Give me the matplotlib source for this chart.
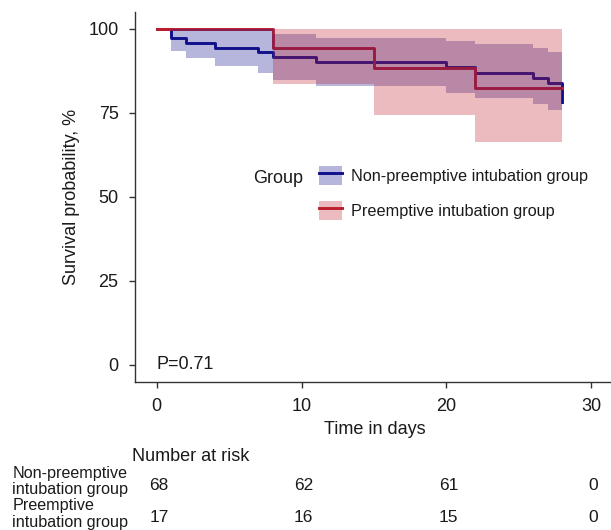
# -*- coding: utf-8 -*-
"""
Kaplan-Meier curves with number at risk table
"""

import numpy as np
import matplotlib.pyplot as plt
from matplotlib.patches import Patch
from matplotlib.lines import Line2D
from matplotlib.transforms import blended_transform_factory

plt.rcParams['font.family'] = ['Liberation Sans', 'DejaVu Sans']

# Non-preemptive intubation group
non_time = [0, 1, 2, 4, 7, 8, 11, 20, 22, 26, 27, 28]
non_surv = [100, 97.2, 95.8, 94.3, 92.9, 91.5, 89.9, 88.6, 86.9, 85.4, 83.9, 78.2]
non_low = [100, 93.3, 91.1, 88.9, 86.8, 84.6, 82.9, 80.9, 79.2, 77.5, 75.7, 75.7]
non_up = [100, 100, 100, 100, 100, 98.3, 97.3, 96.3, 95.3, 94.2, 93.0, 93.0]

# Preemptive intubation group
pre_time = [0, 8, 15, 22, 28]
pre_surv = [100, 94.3, 88.4, 82.4, 82.4]
pre_low = [100, 83.6, 74.2, 66.3, 66.3]
pre_up = [100, 100, 100, 100, 100]

group_names = ['Non-preemptive intubation group', 'Preemptive intubation group']
risk_labels = ['Non-preemptive\nintubation group', 'Preemptive\nintubation group']
risk_times = [0, 10, 20, 30]
risk_non = [68, 62, 61, 0]
risk_pre = [17, 16, 15, 0]
p_text = 'P=0.71'

blue = '#10108C'
red = '#BE1E2C'
txt = '#1a1a1a'

fig = plt.figure(figsize=(6.11, 5.30), dpi=100)
ax = fig.add_axes([135 / 611, 148.3 / 530, 477.8 / 611, 370 / 530])

# lines first, confidence bands drawn on top (like the original)
ax.step(non_time, non_surv, where='post', color=blue, lw=2.1, zorder=2)
ax.step(pre_time, pre_surv, where='post', color=red, lw=2.1, zorder=2)
ax.fill_between(non_time, non_low, non_up, step='post', color=blue,
                alpha=0.3, lw=0, zorder=3)
ax.fill_between(pre_time, pre_low, pre_up, step='post', color=red,
                alpha=0.3, lw=0, zorder=3)

ax.set_xlim(-1.5, 31.5)
ax.set_ylim(-5, 105)
ax.set_xticks(np.arange(0, 31, 10))
ax.set_yticks(np.arange(0, 101, 25))
for s in ['top', 'right']:
    ax.spines[s].set_visible(False)
for s in ['left', 'bottom']:
    ax.spines[s].set_color('#333333')
    ax.spines[s].set_linewidth(1.0)
ax.tick_params(length=4.3, width=1, color='#333333', pad=7.5,
               labelsize=13, labelcolor=txt)

ax.text(0, 0, p_text, ha='left', va='center', fontsize=13, color=txt)

# axis titles
fig.text(375 / 611, 1 - 434 / 530, 'Time in days', ha='center',
         va='baseline', fontsize=13, color=txt)
fig.text(71 / 611, 1 - 196.7 / 530, 'Survival probability, %', ha='center',
         va='center', rotation=90, fontsize=13, color=txt)

# legend with title on the left
fig.text(253 / 611, 1 - 183 / 530, 'Group', ha='left', va='baseline',
         fontsize=13, color=txt)
handles = [(Patch(facecolor=blue, alpha=0.3, lw=0), Line2D([], [], color=blue, lw=2.1)),
           (Patch(facecolor=red, alpha=0.3, lw=0), Line2D([], [], color=red, lw=2.1))]
ax.legend(handles, group_names, loc='upper left',
          bbox_to_anchor=(319 / 611, 1 - 166 / 530), bbox_transform=fig.transFigure,
          frameon=False, fontsize=11.7, handlelength=1.42, handleheight=1.42,
          handletextpad=0.52, labelspacing=0.98, borderpad=0, borderaxespad=0,
          labelcolor=txt)

# number at risk table
trans = blended_transform_factory(ax.transData, fig.transFigure)
fig.text(131.7 / 611, 1 - 461 / 530, 'Number at risk', ha='left',
         va='baseline', fontsize=13, color=txt)
row_base = [490, 522.5]
for row, counts in enumerate([risk_non, risk_pre]):
    yb = 1 - row_base[row] / 530
    for t, n in zip(risk_times, counts):
        ax.text(t + 0.15, yb, str(n), transform=trans, ha='center',
                va='baseline', fontsize=12.5, color=txt, clip_on=False)
fig.text(128.3 / 611, 1 - 494 / 530, risk_labels[0], ha='right',
         multialignment='left', va='baseline', fontsize=11.6, color=txt,
         linespacing=1.1)
fig.text(128.3 / 611, 1 - 526.5 / 530, risk_labels[1], ha='right',
         multialignment='left', va='baseline', fontsize=11.6, color=txt,
         linespacing=1.1)

plt.savefig('out.png', dpi=100)
